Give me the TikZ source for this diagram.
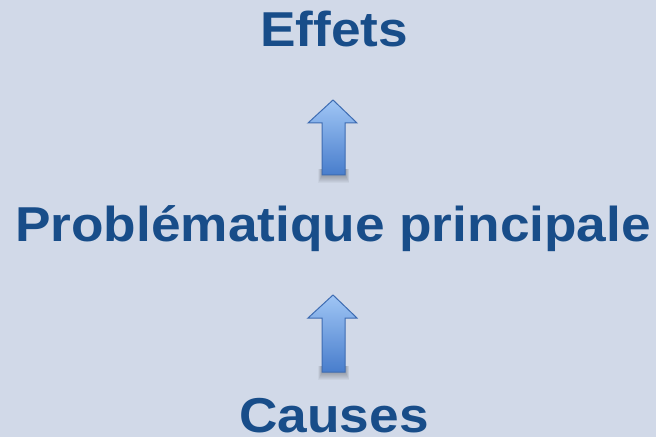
\documentclass[tikz,border=0pt]{standalone}
\usepackage{fontspec}
\setmainfont{Liberation Sans}
\newfontfamily\lblfont[FakeStretch=1.086]{Liberation Sans}
\definecolor{bgc}{RGB}{209,217,232}
\definecolor{txtc}{RGB}{24,77,137}
\definecolor{arrtop}{RGB}{160,198,245}
\definecolor{arrbot}{RGB}{72,125,204}
\definecolor{arredge}{RGB}{62,108,178}
\begin{document}
\begin{tikzpicture}[x=1pt,y=1pt,
  lbl/.style={anchor=base,font=\lblfont\fontsize{49}{58}\selectfont\bfseries,text=txtc,inner sep=0pt},
  uparrow/.style={top color=arrtop,bottom color=arrbot,draw=arredge,line width=1pt,line join=miter},
  shad/.style={fill=black,opacity=0.035}]
\fill[bgc] (0,0) rectangle (656,437);
\useasboundingbox (0,0) rectangle (656,437);
\node[lbl] (effets) at (334,390) {Effets};
\node[lbl] (prob) at (333,195) {Problématique principale};
\node[lbl] (causes) at (334,5) {Causes};
% soft shadows under the arrows
\foreach \b in {262,65}{
  \foreach \d in {1,2,...,8}{
    \fill[shad] (322-\d/2,\b-\d) rectangle (345+\d/2,\b+6);
  }
}
% arrow 1
\path[uparrow] (322,262) -- (322,314) -- (308,314) -- (333,337) -- (357,314) -- (345,314) -- (345,262) -- cycle;
% arrow 2
\path[uparrow] (322,65) -- (322,119) -- (308,119) -- (333,142) -- (357,119) -- (345,119) -- (345,65) -- cycle;
\end{tikzpicture}
\end{document}
